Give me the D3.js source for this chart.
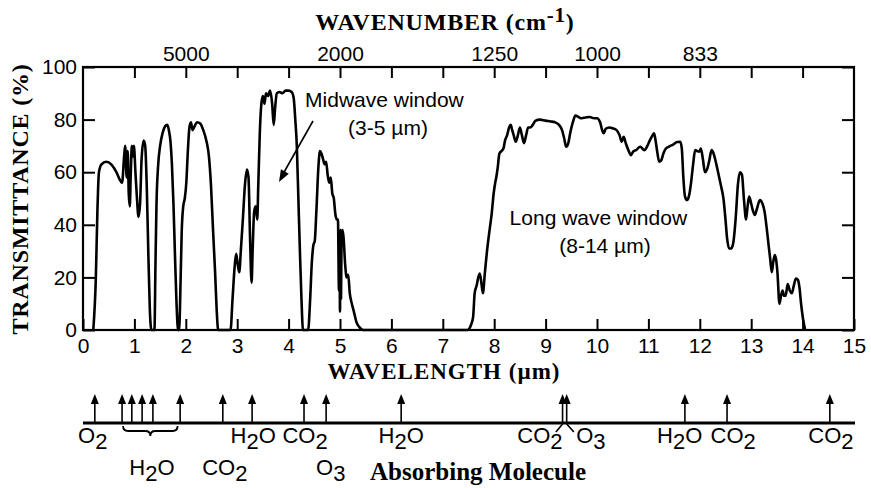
<!DOCTYPE html>
<html><head><meta charset="utf-8">
<script src="https://cdn.jsdelivr.net/npm/d3@7"></script>
<style>body{margin:0;background:#fff}</style>
</head><body><svg id="c" width="871" height="488"></svg>
<script>
// ---------- DATA ----------
const wavelength = [
 0.20,0.25,0.28,0.31,0.36,0.45,0.55,0.65,0.72,0.76,0.80,0.82,0.85,0.87,0.89,0.91,0.93,0.95,0.97,0.99,1.02,1.05,1.08,1.11,1.14,1.18,1.21,1.24,1.27,1.30,1.33,
 1.39,1.41,1.43,1.46,1.50,1.55,1.60,1.64,1.67,1.70,1.73,1.76,1.79,1.82,1.85,
 1.87,1.90,1.92,1.95,1.98,2.01,2.04,2.07,2.10,2.13,2.16,2.22,2.28,2.34,2.40,2.45,2.49,2.53,2.57,2.60,2.63,
 2.87,2.91,2.95,2.98,3.01,3.04,3.07,3.11,3.15,3.19,3.22,3.25,3.28,3.30,3.33,3.36,3.39,3.41,3.44,3.47,3.50,3.53,3.56,3.60,3.64,3.68,3.71,3.74,3.77,3.82,3.88,3.94,4.00,4.06,4.10,4.13,4.16,4.19,4.22,4.25,4.28,
 4.38,4.42,4.45,4.48,4.51,4.54,4.58,4.61,4.64,4.67,4.70,4.73,4.76,4.79,4.82,4.85,4.88,4.91,4.94,4.96,4.98,4.99,5.00,5.01,5.02,5.03,5.05,5.07,5.10,5.13,5.16,5.19,5.23,5.27,5.32,5.38,5.45,
 7.48,7.55,7.59,7.62,7.66,7.69,7.72,7.75,7.78,7.82,7.86,7.91,7.95,7.99,8.02,8.04,8.07,8.10,8.14,8.18,8.21,8.25,8.29,8.32,8.35,8.38,8.42,8.46,8.50,8.54,8.58,8.62,8.66,8.70,8.75,8.80,8.89,9.00,9.10,9.18,9.26,9.32,9.36,9.40,9.44,9.48,9.53,9.58,9.64,9.70,9.78,9.86,9.94,10.00,
 10.06,10.10,10.13,10.17,10.24,10.30,10.38,10.44,10.48,10.52,10.56,10.61,10.66,10.71,10.76,10.84,10.92,10.98,11.03,11.08,11.11,11.14,11.17,11.21,11.25,11.29,11.34,11.40,11.48,11.56,11.62,11.65,11.68,11.71,11.75,11.79,11.83,11.87,11.91,11.95,11.99,
 12.02,12.06,12.10,12.14,12.18,12.23,12.27,12.31,12.36,12.41,12.46,12.50,12.53,12.57,12.61,12.65,12.70,12.74,12.78,12.82,12.86,12.90,12.93,12.96,13.00,13.03,13.07,13.11,13.17,13.22,13.26,13.30,13.34,13.37,13.40,13.43,13.46,13.49,13.51,13.55,13.58,13.61,13.64,13.67,13.71,13.75,13.79,13.83,13.87,13.91,13.94,13.97,14.01,14.05
];
const transmittance = [
 0,20,45,60,63,64,63,60,57,56,66,70,58,68,52,47,60,70,66,70,60,50,43,48,65,72,70,55,30,8,0,
 0,25,48,62,70,75,77.5,78,76,72,63,48,28,10,0,
 0,20,37,47,50,56,68,77,79,76,77,79,78.5,76,72,66,55,38,22,8,0,
 0,12,24,29,25,22,30,42,55,61,58,35,18,30,45,47,42,55,75,86,89,86,90,89,91,86,78,85,90,90.5,90,91,91,90.5,88,80,70,50,30,12,0,
 0,12,25,32,34,45,62,68,67,65,63,64,59,56,58,52,50,44,42,42,15,35,7,38,12,36,38,35,25,20,21,14,10,7,3,1,0,
 0,2,5,14,17,20,21.5,18,14,22,30,38,44,52,56,58,62,67,68,69,72,74,77,78,76,74,71.6,74,77,74,71,74,77,77,78,79.5,80,79.6,79.3,79,78,76,73,69.7,71,75,79,81.5,81,80.5,80.8,81,80.5,80.5,
 79,76,74.8,76.5,77,76.7,76,74,71.6,73.5,71,68.4,66.5,68,68.4,69.7,68.4,70,72.2,74,74.8,72,68,64,64.5,67,69,69.7,70.5,71.5,71.6,69,58,51,49.4,51,56,63,68.4,68,67.8,
 69,65,60,61,64,68.4,67,64,59.6,55,50,42,35,31,31,33,43,55,60,59,49.4,42,47,50.7,48,45.6,43.7,46,49.4,48,45,39,32,27,22,26,28.5,26,22,10,13,15,13,13,17.5,15,14,17,19.6,19,16,10,4,0
];
const xTickValues = [0,1,2,3,4,5,6,7,8,9,10,11,12,13,14,15];
const topTickValues = [1,2,3,4,5,6,7,8,9,10,11,12,13,14];
const topLabelWavelengths = [2,5,8,10,12];
const topLabelText = ["5000","2000","1250","1000","833"];
const yTickValues = [0,20,40,60,80,100];
const arrowWavelengths = [0.23,0.76,0.95,1.15,1.36,1.89,2.72,3.29,4.30,4.73,6.19,9.33,9.41,11.71,12.53,14.53];
const moleculeText = ["O2","H2O","CO2","H2O","CO2","O3","H2O","CO2","O3","H2O","CO2","CO2"];
const moleculeAt   = [0.19,1.34,2.76,3.31,4.32,4.82,6.19,8.89,9.88,11.61,12.65,14.55];
const moleculeRow  = [1,2,2,1,1,2,1,1,1,1,1,1];

// ---------- CHART ----------
const svg = d3.select("#c");
const SANS = "'Liberation Sans', Arial, Helvetica, sans-serif";
const SERIF = "'Liberation Serif', 'Times New Roman', serif";
const x = d3.scaleLinear().domain([0,15]).range([83,854]);
const y = d3.scaleLinear().domain([0,100]).range([330,67]);

function styleAxis(g){
  g.select(".domain").remove();
  g.selectAll(".tick line").attr("stroke","#000").attr("stroke-width",2);
  g.selectAll(".tick text").attr("fill","#000").style("font-family",SANS).style("font-size","21px");
}

// bottom axis
svg.append("g").attr("transform","translate(0,330)")
  .call(d3.axisBottom(x).tickValues(xTickValues).tickSizeInner(-11).tickSizeOuter(0).tickPadding(8).tickFormat(d3.format("d")))
  .call(styleAxis);
// top axis (wavenumber)
svg.append("g").attr("transform","translate(0,67)")
  .call(d3.axisTop(x).tickValues(topTickValues).tickSizeInner(-11).tickSizeOuter(0).tickPadding(6)
        .tickFormat(d => { const i = topLabelWavelengths.indexOf(d); return i >= 0 ? topLabelText[i] : ""; }))
  .call(styleAxis);
// left axis
svg.append("g").attr("transform","translate(83,0)")
  .call(d3.axisLeft(y).tickValues(yTickValues).tickSizeInner(-12).tickSizeOuter(0).tickPadding(6))
  .call(styleAxis);
// right axis
svg.append("g").attr("transform","translate(854,0)")
  .call(d3.axisRight(y).tickValues(yTickValues).tickSizeInner(-12).tickSizeOuter(0).tickFormat(""))
  .call(styleAxis);

// frame
svg.append("rect").attr("x",x(0)).attr("y",y(100)).attr("width",x(15)-x(0)).attr("height",y(0)-y(100))
  .attr("fill","none").attr("stroke","#000").attr("stroke-width",2.2);

// curve
const pts = wavelength.map((w,i)=>[w,transmittance[i]]);
svg.append("path").datum(pts)
  .attr("d", d3.line().x(d=>x(d[0])).y(d=>y(d[1])).curve(d3.curveMonotoneX))
  .attr("fill","none").attr("stroke","#000").attr("stroke-width",2.6).attr("stroke-linejoin","round");

// titles
const topTitle = svg.append("text").attr("x",445).attr("y",30).attr("text-anchor","middle")
  .style("font-family",SERIF).style("font-weight","bold").style("font-size","24px").style("letter-spacing","0.8px");
topTitle.append("tspan").text("WAVENUMBER (cm");
topTitle.append("tspan").attr("dy",-8).style("font-size","21px").text("-1");
topTitle.append("tspan").attr("dy",8).text(")");

svg.append("text").attr("x",444).attr("y",379).attr("text-anchor","middle")
  .style("font-family",SERIF).style("font-weight","bold").style("font-size","23px").style("letter-spacing","1px")
  .text("WAVELENGTH (µm)");

svg.append("text").attr("transform","translate(28,199) rotate(-90)").attr("text-anchor","middle")
  .style("font-family",SERIF).style("font-weight","bold").style("font-size","24px").style("letter-spacing","0.8px")
  .text("TRANSMITTANCE (%)");

svg.append("text").attr("x",478).attr("y",480).attr("text-anchor","middle")
  .style("font-family",SERIF).style("font-weight","bold").style("font-size","25px")
  .text("Absorbing Molecule");

// annotations
function sansText(tx,ty,anchor,str){
  return svg.append("text").attr("x",tx).attr("y",ty).attr("text-anchor",anchor)
    .style("font-family",SANS).style("font-size","21px").attr("fill","#000").text(str);
}
sansText(x(4.32),107,"start","Midwave window");
sansText(388,135,"middle","(3-5 µm)");
sansText(x(8.3),225,"start","Long wave window");
sansText(605,253,"middle","(8-14 µm)");

// midwave arrow
svg.append("line").attr("x1",313).attr("y1",121).attr("x2",283).attr("y2",174)
  .attr("stroke","#000").attr("stroke-width",1.6);
(function(){
  const tx=279, ty=182, ang=Math.atan2(182-121, 279-313);
  const L=12, W=4.5;
  const bx=tx-L*Math.cos(ang), by=ty-L*Math.sin(ang);
  const px=-Math.sin(ang)*W, py=Math.cos(ang)*W;
  svg.append("path").attr("d",`M${tx},${ty}L${bx+px},${by+py}L${bx-px},${by-py}Z`).attr("fill","#000");
})();

// absorbing molecule strip
const stripY = 423;
svg.append("line").attr("x1",x(0)).attr("x2",x(15)+1).attr("y1",stripY).attr("y2",stripY)
  .attr("stroke","#000").attr("stroke-width",3);
const arrows = svg.append("g");
arrowWavelengths.forEach(w=>{
  const ax = x(w);
  arrows.append("line").attr("x1",ax).attr("x2",ax).attr("y1",stripY).attr("y2",402)
    .attr("stroke","#000").attr("stroke-width",1.6);
  arrows.append("path").attr("d",`M${ax},394L${ax-4},404L${ax+4},404Z`).attr("fill","#000");
});
// brace under the H2O arrows
(function(){
  const a=x(0.78), b=x(1.84), m=(a+b)/2;
  svg.append("path").attr("d",
    `M${a},426Q${a},431 ${a+5},431L${m-5},431Q${m},431 ${m},436Q${m},431 ${m+5},431L${b-5},431Q${b},431 ${b},426`)
    .attr("fill","none").attr("stroke","#000").attr("stroke-width",1.8);
})();
// caret linking CO2 / O3 at 9.4 µm
svg.append("path").attr("d",`M${x(9.33)},424L${x(9.2)},432M${x(9.41)},424L${x(9.55)},432`)
  .attr("fill","none").attr("stroke","#000").attr("stroke-width",1.6);

// molecule labels with subscripts
moleculeText.forEach((m,i)=>{
  const t = svg.append("text").attr("x",x(moleculeAt[i])).attr("y",moleculeRow[i]===1?443:475)
    .attr("text-anchor","middle").style("font-family",SANS).style("font-size","22px");
  let low=false;
  for(const ch of m){
    const isDigit=/\d/.test(ch);
    const ts=t.append("tspan").text(ch);
    if(isDigit && !low){ ts.attr("dy",6); low=true; }
    else if(!isDigit && low){ ts.attr("dy",-6); low=false; }
  }
});
</script>
</body></html>
